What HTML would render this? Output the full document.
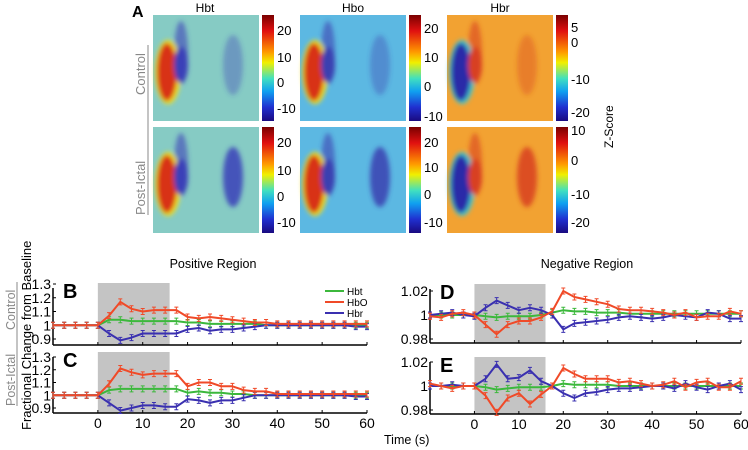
<!DOCTYPE html>
<html><head><meta charset="utf-8"><style>
body{margin:0;background:#fff;width:748px;height:450px;overflow:hidden}
svg{display:block;font-family:"Liberation Sans",Arial,sans-serif}
</style></head><body>
<svg id="fig" width="748" height="450" viewBox="0 0 748 450">
<defs>
<linearGradient id="jet" x1="0" y1="0" x2="0" y2="1">
<stop offset="0" stop-color="#7a0000"/><stop offset="0.15" stop-color="#e01010"/><stop offset="0.35" stop-color="#ff9a00"/><stop offset="0.45" stop-color="#f0f000"/><stop offset="0.6" stop-color="#40e0c0"/><stop offset="0.72" stop-color="#10a0f0"/><stop offset="0.87" stop-color="#2030d0"/><stop offset="1" stop-color="#1a0a80"/>
</linearGradient>
<filter id="blur"><feGaussianBlur stdDeviation="2.5"/></filter>
</defs>
<text x="132" y="17" font-size="16" font-weight="bold">A</text>
<text x="205" y="12" font-size="12" text-anchor="middle">Hbt</text>
<text x="353" y="12" font-size="12" text-anchor="middle">Hbo</text>
<text x="500" y="12" font-size="12" text-anchor="middle">Hbr</text>
<g fill="#888" font-size="13">
<text transform="translate(145,95) rotate(-90)">Control</text>
<text transform="translate(145,215) rotate(-90)">Post-Ictal</text>
<line x1="148" y1="45" x2="148" y2="215" stroke="#888" stroke-width="1"/>
</g>
<text transform="translate(613,148) rotate(-90)" font-size="12">Z-Score</text>
<g id="maps"></g>
<g id="charts"></g>
</svg>
<script>
const NS='http://www.w3.org/2000/svg';
function mk(tag,attrs,parent){const e=document.createElementNS(NS,tag);for(const k in attrs)e.setAttribute(k,attrs[k]);if(parent)parent.appendChild(e);return e;}
const maps=document.getElementById('maps');
const mapCols=[153,300,447];
const mapRows=[15,127];
const mapBg=['#86cbc4','#5cb8e2','#f2a232'];
const hotColor=['#d83018','#d83018','#2a2aa8'];
const coldColor=['#3a40b8','#3a40b0','#d84020'];
const rimColor=['#f0e020','#f0e020','#40c8d0'];
const cbLabels=[
 [[[20,30],[10,57],[0,82],[-10,108]],[[20,142],[10,170],[0,196],[-10,222]]],
 [[[20,28],[10,57],[0,86],[-10,116]],[[20,142],[10,167],[0,194],[-10,222]]],
 [[[5,27],[0,42],[-10,79],[-20,112]],[[10,130],[0,160],[-10,194],[-20,222]]]
];
mapCols.forEach((x,c)=>{mapRows.forEach((y,r)=>{
 const g=mk('g',{},maps);
 
 
 mk('rect',{x:x,y:y,width:106,height:106,fill:mapBg[c]},g);
 const b=mk('g',{filter:'url(#blur)'},g);
 mk('ellipse',{cx:x+28,cy:y+38,rx:7,ry:32,fill:coldColor[c],opacity:0.6},b);
 mk('ellipse',{cx:x+80,cy:y+50,rx:10,ry:30,fill:coldColor[c],opacity:r?0.85:0.35},b);
 mk('ellipse',{cx:x+15,cy:y+57,rx:13,ry:32,fill:rimColor[c]},b);
 mk('ellipse',{cx:x+14,cy:y+57,rx:10,ry:29,fill:hotColor[c]},b);
 mk('ellipse',{cx:x+28,cy:y+50,rx:7,ry:18,fill:coldColor[c]},b);
 const cx=x+109;
 const cb=mk('rect',{x:cx,y:y,width:12,height:106,fill:'url(#jet)'},maps);
 
 
 cbLabels[c][r].forEach(l=>{const t=mk('text',{x:cx+15,y:l[1]+5,'font-size':13},maps);t.textContent=l[0];});
});});
const times=[-10,-7.5,-5,-2.5,0,2.5,5,7.5,10,12.5,15,17.5,20,22.5,25,27.5,30,32.5,35,37.5,40,42.5,45,47.5,50,52.5,55,57.5,60];
const xTicks=[0,10,20,30,40,50,60];
const bHbo=[1,1,1,1,1,1.07,1.17,1.12,1.10,1.11,1.11,1.11,1.06,1.05,1.06,1.05,1.04,1.03,1.02,1.02,1.01,1.01,1.01,1.01,1.01,1.01,1.01,1.01,1.01];
const bHbt=[1,1,1,1,1,1.04,1.04,1.03,1.03,1.03,1.03,1.03,1.02,1.02,1.01,1.01,1.01,1.01,1.01,1.0,1.0,1.0,1.0,1.0,1.0,1.0,1.0,1.0,1.0];
const bHbr=[1,1,1,1,1,0.94,0.89,0.91,0.94,0.94,0.94,0.94,0.97,0.98,0.96,0.97,0.97,0.98,0.99,1.0,1.0,1.0,1.0,1.0,1.0,1.0,1.0,0.99,0.99];
const cHbo=[1,1,1,1,1,1.09,1.21,1.18,1.16,1.17,1.17,1.17,1.07,1.10,1.10,1.07,1.07,1.04,1.03,1.03,1.01,1.01,1.01,1.01,1.01,1.01,1.01,1.01,1.01];
const cHbt=[1,1,1,1,1,1.04,1.05,1.05,1.05,1.05,1.05,1.05,1.02,1.03,1.02,1.02,1.01,1.01,1.0,1.0,1.0,1.0,1.0,1.0,1.0,1.0,1.0,1.0,1.0];
const cHbr=[1,1,1,1,1,0.94,0.88,0.90,0.92,0.92,0.91,0.91,0.97,0.96,0.94,0.96,0.96,0.98,1.0,1.0,1.0,1.0,1.0,1.0,1.0,1.0,1.0,0.99,0.99];
const dHbr=[1,1.001,1.002,1.0,0.999,1.006,1.012,1.008,1.004,1.006,1.004,1.0,0.988,0.993,0.994,0.995,0.996,0.998,0.999,0.998,0.997,0.998,1.0,0.999,0.998,1.002,1.001,0.997,0.997];
const dHbo=[0.999,0.998,1.001,1.002,1.0,0.992,0.984,0.992,0.995,0.995,0.998,1.003,1.02,1.015,1.013,1.011,1.009,1.005,1.004,1.004,1.003,1.002,1.0,1.002,0.998,0.999,0.999,1.003,1.001];
const dHbt=[1,1,1,1,1,0.999,0.998,0.999,0.999,0.999,1.0,1.002,1.004,1.003,1.003,1.002,1.002,1.002,1.001,1.001,1.001,1.001,1.001,1.001,1.001,1.001,1.001,1.001,1.001];
const eHbr=[1.0,1.0,1.001,1.0,1.0,1.006,1.018,1.006,1.007,1.013,1.004,1.0,0.994,0.99,0.994,0.995,0.997,0.998,0.998,0.999,1.0,1.0,0.998,1.002,0.999,0.997,1.0,1.002,0.997];
const eHbo=[1.002,1.0,0.998,1.0,1.0,0.992,0.978,0.990,0.994,0.985,0.993,1.0,1.015,1.01,1.006,1.006,1.006,1.003,1.004,1.002,1.0,1.001,1.004,0.999,1.003,1.004,0.999,0.999,1.004];
const eHbt=[1,1,1,1,1,0.999,0.997,0.998,0.999,0.999,0.999,1.0,1.002,1.001,1.001,1.001,1.001,1.0,1.0,1.0,1.0,1.0,1.0,1.0,1.0,1.0,1.0,1.0,1.0];
const posTicks=[0.9,1,1.1,1.2,1.3];
const negTicks=[0.98,1,1.02];
const colors={hbt:'#3cb83c',hbo:'#f04a28',hbr:'#3a30b0'};
const charts=document.getElementById('charts');
function panel(name,letter,L,R,top,bottom,yA,yB,pA,pB,ticks,series,showX){
 const g=mk('g',{},charts);
 
 
 const x0=L[1],x60=R[1];
 const X=t=>x0+(t-L[0])*(x60-x0)/(R[0]-L[0]);
 const Y=v=>pA+(v-yA)*(pB-pA)/(yB-yA);
 const ax=X(-10);
 const shade=mk('rect',{x:X(0),y:top,width:X(16)-X(0),height:bottom-top,fill:'#c4c4c4'},g);
 
 
 mk('line',{x1:ax,y1:bottom,x2:X(60),y2:bottom,stroke:'#000','stroke-width':1.5},g);
 mk('line',{x1:ax,y1:top+5,x2:ax,y2:bottom,stroke:'#000','stroke-width':1.5},g);
 xTicks.forEach(t=>{mk('line',{x1:X(t),y1:bottom,x2:X(t),y2:bottom-3,stroke:'#000'},g);
  if(showX){const tx=mk('text',{x:X(t),y:bottom+15,'font-size':14,'text-anchor':'middle'},g);tx.textContent=t;}});
 ticks.forEach(v=>{mk('line',{x1:ax,y1:Y(v),x2:ax+3,y2:Y(v),stroke:'#000'},g);
  const tx=mk('text',{x:ax-2,y:Y(v)+5,'font-size':14,'text-anchor':'end'},g);tx.textContent=v;});
 series.forEach(s=>{
  const pts=times.map((t,i)=>X(t).toFixed(1)+','+Y(s.v[i]).toFixed(1)).join(' ');
  const pl=mk('polyline',{points:pts,fill:'none',stroke:colors[s.k],'stroke-width':2,'stroke-linejoin':'round'},g);
  
  
  times.forEach((t,i)=>{const xx=X(t),yy=Y(s.v[i]);
   mk('path',{d:`M${xx-2},${yy-3}h4M${xx},${yy-3}v6M${xx-2},${yy+3}h4`,stroke:colors[s.k],'stroke-width':1,fill:'none'},g);});
 });
 const lt=mk('text',{x:ax+10,y:top+15,'font-size':20,'font-weight':'bold'},g);lt.textContent=letter;
 return g;
}
panel('chart-b-positive-control','B',[-10,53],[60,367],283,345,0.9,1.3,339,284,posTicks,[{k:'hbt',v:bHbt},{k:'hbr',v:bHbr},{k:'hbo',v:bHbo}],false);
panel('chart-c-positive-postictal','C',[-10,53],[60,367],352,413,0.9,1.3,408,357,posTicks,[{k:'hbt',v:cHbt},{k:'hbr',v:cHbr},{k:'hbo',v:cHbo}],true);
panel('chart-d-negative-control','D',[-10,430],[60,741],284,343,0.98,1.02,339,291,negTicks,[{k:'hbt',v:dHbt},{k:'hbr',v:dHbr},{k:'hbo',v:dHbo}],false);
panel('chart-e-negative-postictal','E',[-10,430],[60,741],357,414,0.98,1.02,410,362,negTicks,[{k:'hbt',v:eHbt},{k:'hbr',v:eHbr},{k:'hbo',v:eHbo}],true);
const leg=mk('g',{},charts);


[['Hbt','hbt',291],['HbO','hbo',302],['Hbr','hbr',313]].forEach(l=>{
 const e=mk('g',{},leg);
 
 
 mk('line',{x1:325,y1:l[2],x2:344,y2:l[2],stroke:colors[l[1]],'stroke-width':2},e);
 const t=mk('text',{x:347,y:l[2]+4,'font-size':10},e);t.textContent=l[0];});
function txt(s,attrs,name){const t=mk('text',attrs,charts);t.textContent=s;}
txt('Positive Region',{x:213,y:268,'font-size':12.5,'text-anchor':'middle'},'positive-region-title');
txt('Negative Region',{x:587,y:268,'font-size':12.5,'text-anchor':'middle'},'negative-region-title');
txt('Time (s)',{x:384,y:444,'font-size':12.5},'x-axis-title');
txt('Fractional Change from Baseline',{transform:'translate(31,430) rotate(-90)','font-size':13},'y-axis-title');
txt('Control',{transform:'translate(15,330) rotate(-90)','font-size':12.5,fill:'#888'},'control-label-b');
txt('Post-Ictal',{transform:'translate(15,406) rotate(-90)','font-size':12.5,fill:'#888'},'postictal-label-c');
mk('line',{x1:17,y1:282,x2:17,y2:406,stroke:'#888'},charts);
</script>
</body></html>
